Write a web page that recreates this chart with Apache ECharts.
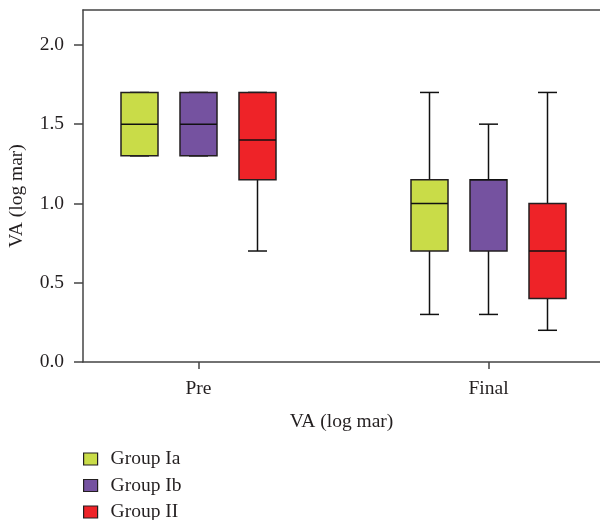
<!DOCTYPE html>
<html><head><meta charset="utf-8">
<script src="https://cdn.jsdelivr.net/npm/echarts@6/dist/echarts.min.js"></script>
<style>html,body{margin:0;padding:0;background:#fff}#c{width:600px;height:520px}</style>
</head><body><div id="c"></div>
<script>
const categories = ['Pre', 'Final'];
const groupNames = ['Group Ia', 'Group Ib', 'Group II'];
// [min, Q1, median, Q3, max] for Pre, Final
const groupIa = [[1.3, 1.3, 1.5, 1.7, 1.7], [0.3, 0.7, 1.0, 1.15, 1.7]];
const groupIb = [[1.3, 1.3, 1.5, 1.7, 1.7], [0.3, 0.7, 1.15, 1.15, 1.5]];
const groupII = [[0.7, 1.15, 1.4, 1.7, 1.7], [0.2, 0.4, 0.7, 1.0, 1.7]];
const yTicks = [0, 0.5, 1.0, 1.5, 2.0];

const colors = ['#c9dc48', '#7552a0', '#ee2328'];
const offsets = [-59, 0, 59];
const FONT = 'Liberation Serif';
const FS = 19.5;
const TXT = '#231f20';
const AX = '#444444';
const groups = [groupIa, groupIb, groupII];

const chart = echarts.init(document.getElementById('c'), null, {renderer: 'canvas'});

function makeRender(k) {
  return function (params, api) {
    const cat = api.value(0);
    const cx = api.coord([cat, 0])[0] + offsets[k];
    const py = v => api.coord([cat, v])[1];
    const ymin = py(api.value(1)), yq1 = py(api.value(2)), ymed = py(api.value(3)),
          yq3 = py(api.value(4)), ymax = py(api.value(5));
    const hw = 18.5, cw = 9.5;
    const ls = {stroke: '#111', lineWidth: 1.5};
    return {type: 'group', children: [
      {type: 'line', shape: {x1: cx, y1: ymax, x2: cx, y2: yq3}, style: ls},
      {type: 'line', shape: {x1: cx, y1: yq1, x2: cx, y2: ymin}, style: ls},
      {type: 'line', shape: {x1: cx - cw, y1: ymax, x2: cx + cw, y2: ymax}, style: ls},
      {type: 'line', shape: {x1: cx - cw, y1: ymin, x2: cx + cw, y2: ymin}, style: ls},
      {type: 'rect', shape: {x: cx - hw, y: yq3, width: 2 * hw, height: yq1 - yq3},
        style: {fill: colors[k], stroke: TXT, lineWidth: 1.5}},
      {type: 'line', shape: {x1: cx - hw, y1: ymed, x2: cx + hw, y2: ymed}, style: ls}
    ]};
  };
}

const option = {
  animation: false,
  backgroundColor: '#fff',
  textStyle: {fontFamily: FONT, color: TXT},
  grid: [
    {left: 83, top: 10, width: 517, height: 352, containLabel: false, outerBoundsMode: 'none'},
    {left: 53.5, top: 10, width: 580, height: 352, containLabel: false, outerBoundsMode: 'none'}
  ],
  xAxis: [
    {gridIndex: 0, type: 'value', min: 0, max: 1, position: 'bottom',
      axisLine: {show: true, lineStyle: {color: AX, width: 1.5}},
      axisTick: {show: false}, axisLabel: {show: false}, splitLine: {show: false},
      name: 'VA (log mar)', nameLocation: 'middle', nameGap: 50,
      nameTextStyle: {fontFamily: FONT, fontSize: FS, color: TXT}},
    {gridIndex: 0, type: 'value', min: 0, max: 1, position: 'top',
      axisLine: {show: true, lineStyle: {color: AX, width: 1.5}},
      axisTick: {show: false}, axisLabel: {show: false}, splitLine: {show: false}},
    {gridIndex: 1, type: 'category', data: categories,
      axisLine: {show: false},
      axisTick: {show: true, alignWithLabel: true, length: 7, lineStyle: {color: AX, width: 1.5}},
      axisLabel: {margin: 17, fontFamily: FONT, fontSize: FS, color: TXT},
      splitLine: {show: false}}
  ],
  yAxis: [
    {gridIndex: 0, type: 'value', min: 0, max: 2.22,
      axisLine: {show: true, lineStyle: {color: AX, width: 1.5}},
      axisTick: {show: true, length: 9, customValues: yTicks, lineStyle: {color: AX, width: 1.5}},
      axisLabel: {customValues: yTicks, formatter: v => v.toFixed(1), margin: 19,
        fontFamily: FONT, fontSize: FS, color: TXT},
      splitLine: {show: false},
      name: 'VA (log mar)', nameLocation: 'middle', nameGap: 56, nameRotate: 90,
      nameTextStyle: {fontFamily: FONT, fontSize: FS, color: TXT, padding: [0, 20, 0, 0]}},
    {gridIndex: 1, type: 'value', min: 0, max: 2.22, show: false}
  ],
  legend: {
    orient: 'vertical', left: 83, top: 449, height: 120, padding: 0,
    itemWidth: 14, itemHeight: 12, itemGap: 6.5,
    textStyle: {fontFamily: FONT, fontSize: FS, color: TXT, lineHeight: 18, padding: [0, 0, 0, 8]},
    data: groupNames.map((n, k) => ({name: n, icon: 'rect',
      itemStyle: {color: colors[k], borderColor: TXT, borderWidth: 1.2}}))
  },
  series: groups.map((g, k) => ({
    type: 'custom', name: groupNames[k], xAxisIndex: 2, yAxisIndex: 1,
    itemStyle: {color: colors[k]},
    renderItem: makeRender(k),
    encode: {x: 0, y: [1, 2, 3, 4, 5]},
    data: g.map((d, i) => [i].concat(d))
  }))
};
chart.setOption(option);
</script></body></html>
